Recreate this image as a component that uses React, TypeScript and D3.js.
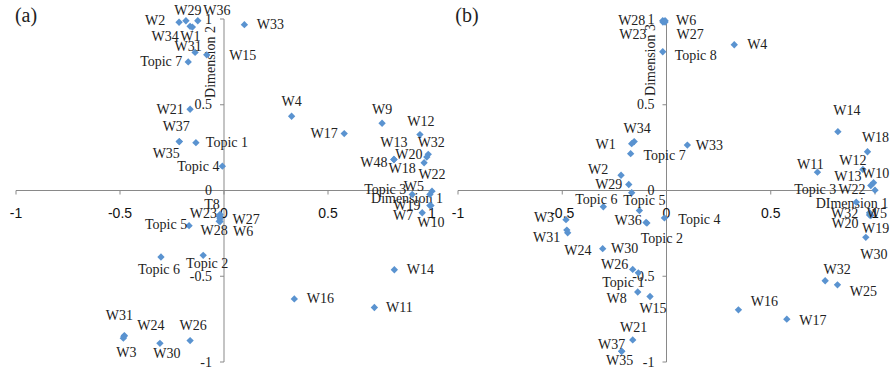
import React from "react";
import * as d3 from "d3";

// ---------- Panel (a): Dimension 1 vs Dimension 2 ----------
const aNames = ["W2","W29","W36","W34","W1","W31","W15","Topic 7","W33","W21","W37","W35","Topic 1","Topic 4","W4","W9","W17","W12","W13","W48","W32","W20","W18","W22","W5","Topic 3","W19","W10","W7","T8","W23","W27","W28","W6","Topic 5","Topic 6","Topic 2","W14","W16","W11","W31","W24","W3","W30","W26"];
const aDim1 = [-0.216,-0.183,-0.126,-0.163,-0.152,-0.139,-0.083,-0.172,0.098,-0.163,-0.215,-0.215,-0.135,-0.008,0.325,0.76,0.578,0.942,0.817,0.817,0.982,0.975,0.962,1.0,0.99,0.905,0.99,0.995,0.953,-0.019,-0.022,-0.019,-0.023,-0.019,-0.168,-0.303,-0.1,0.819,0.338,0.723,-0.479,-0.481,-0.484,-0.308,-0.163];
const aDim2 = [0.981,0.99,0.99,0.957,0.953,0.805,0.791,0.75,0.967,0.474,0.285,0.285,0.279,0.142,0.433,0.392,0.332,0.326,0.181,0.181,0.211,0.195,0.162,-0.004,-0.023,-0.023,-0.088,-0.088,-0.13,-0.14,-0.152,-0.165,-0.18,-0.181,-0.205,-0.388,-0.378,-0.462,-0.632,-0.682,-0.846,-0.851,-0.861,-0.891,-0.875];
// label offsets (layout, px)
const aLabelDx = [-24,2,19,-25,-2,-7,36,-27,26,-20,-3,-13,31,-24,0,0,-20,1,0,-20,3,-18,-22,0,-16,-27,-23,0,-19,-8,-16,26,-5,23,-23,-2,4,26,26,25,-5,27,3,7,3];
const aLabelDy = [-2,-10,-10,10,9,-6,1,0,0,0,-15,12,0,0,-15,-14,0,-13,-17,3,-12,-3,6,-17,-8,-5,0,17,3,-10,-3,1,9,10,-1,12,8,0,0,0,-20,-11,14,10,-15];

// ---------- Panel (b): Dimension 1 vs Dimension 3 ----------
const bNames = ["W28","W6","W23","W27","Topic 8","W4","W34","W1","Topic 7","W33","W2","W29","","Topic 6","Topic 5","W36","Topic 4","Topic 2","W3","W31","W24","W30","W26","Topic 1","W8","W15","W21","W37","W35","W16","W17","W32","W25","W14","W18","W11","W12","W10","W13","W22","Topic 3","W32","W5","W20","W19","W30"];
const bDim1 = [-0.018,-0.007,-0.017,-0.007,-0.018,0.325,-0.155,-0.167,-0.172,0.1,-0.218,-0.181,-0.167,-0.303,-0.13,-0.098,-0.01,-0.094,-0.482,-0.474,-0.478,-0.306,-0.162,-0.135,-0.138,-0.079,-0.162,-0.215,-0.215,0.345,0.577,0.761,0.82,0.822,0.964,0.724,0.942,0.993,0.98,1.0,0.91,0.974,0.98,0.976,0.974,0.956];
const bDim3 = [0.99,0.99,0.982,0.982,0.809,0.85,0.285,0.273,0.215,0.265,0.089,0.035,-0.013,-0.095,-0.117,-0.186,-0.16,-0.19,-0.17,-0.247,-0.231,-0.339,-0.46,-0.48,-0.592,-0.618,-0.871,-0.938,-0.938,-0.696,-0.75,-0.526,-0.55,0.343,0.226,0.107,0.123,0.045,0.029,0.002,-0.068,-0.13,-0.146,-0.137,-0.143,-0.273];
const bLabelDx = [-31,21,-30,25,33,23,3,-26,34,22,-23,-20,0,-7,5,-18,35,15,-22,-21,11,22,-18,-15,-21,3,1,-10,-2,26,26,12,26,9,8,-7,-10,2,-23,-23,-41,-25,6,-25,6,8];
const bLabelDy = [0,0,12,12,4,0,-13,1,2,0,-6,0,0,-7,-10,-2,2,15,-2,5,20,0,-5,10,6,12,-12,-7,9,-8,1,-11,7,-21,-14,-8,-9,-9,-9,-1,-13,1,-2,10,13,17];

const xTicks = [-1, -0.5, 0, 0.5, 1];
const yTicks = [-1, -0.5, 0, 0.5, 1];
const xTickLabels = ["-1", "-0.5", "0", "0.5", "1"];
const yTickLabels = ["-1", "-0.5", "0", "0.5", "1"];

const SERIF = "'Liberation Serif', 'Times New Roman', serif";
const SANS = "'Liberation Sans', Arial, sans-serif";
const AXIS = "#898989";
const MARK = "#5A93D0";
const TEXT = "#222";

type PanelProps = {
  names: string[]; xs: number[]; ys: number[]; ldx: number[]; ldy: number[];
  x0: number; x1: number; tag: string; tagX: number;
  xTitle: string; xTitlePos: [number, number];
  yTitle: string; yTitlePos: [number, number];
};

function Panel(p: PanelProps) {
  const x = d3.scaleLinear().domain([-1, 1]).range([p.x0, p.x1]);
  const y = d3.scaleLinear().domain([-1, 1]).range([362, 19]);
  const ox = x(0), oy = y(0);
  const diamond = d3.symbol().type(d3.symbolSquare).size(27)();
  return (
    <g>
      <text x={p.tagX} y={15} fontFamily={SERIF} fontSize={20} fill={TEXT} dominantBaseline="central" textAnchor="middle">{p.tag}</text>
      {/* axes */}
      <line x1={x(-1)} x2={x(1)} y1={oy} y2={oy} stroke={AXIS} strokeWidth={1} />
      <line x1={ox} x2={ox} y1={y(1)} y2={y(-1)} stroke={AXIS} strokeWidth={1} />
      {xTicks.map((t, i) => (
        <g key={"xt" + i}>
          <line x1={x(t)} x2={x(t)} y1={oy} y2={oy + 4} stroke={AXIS} />
          <text x={x(t)} y={oy + 22} fontFamily={SANS} fontSize={14} fill="#111" textAnchor="middle" dominantBaseline="central">{xTickLabels[i]}</text>
        </g>
      ))}
      {yTicks.map((t, i) => (
        <g key={"yt" + i}>
          <line x1={ox - 4} x2={ox} y1={y(t)} y2={y(t)} stroke={AXIS} />
          <text x={ox - 12} y={y(t)} fontFamily={SERIF} fontSize={14} fill={TEXT} textAnchor="end" dominantBaseline="central">{yTickLabels[i]}</text>
        </g>
      ))}
      <text x={p.xTitlePos[0]} y={p.xTitlePos[1]} fontFamily={SERIF} fontSize={14} fill={TEXT} textAnchor="middle" dominantBaseline="central">{p.xTitle}</text>
      <text transform={`translate(${p.yTitlePos[0]},${p.yTitlePos[1]}) rotate(-90)`} fontFamily={SERIF} fontSize={14} fill={TEXT} textAnchor="middle" dominantBaseline="central">{p.yTitle}</text>
      {p.names.map((n, i) => (
        <path key={"m" + i} d={diamond as string} transform={`translate(${x(p.xs[i])},${y(p.ys[i])}) rotate(45)`} fill={MARK} />
      ))}
      {p.names.map((n, i) => n ? (
        <text key={"l" + i} x={x(p.xs[i]) + p.ldx[i]} y={y(p.ys[i]) + p.ldy[i]} fontFamily={SERIF} fontSize={14} fill={TEXT} textAnchor="middle" dominantBaseline="central">{n}</text>
      ) : null)}
    </g>
  );
}

export default function App() {
  return (
    <svg width={894} height={373} style={{ position: "absolute", left: 0, top: 0, background: "#fff" }}>
      <rect width={894} height={373} fill="#fff" />
      <Panel names={aNames} xs={aDim1} ys={aDim2} ldx={aLabelDx} ldy={aLabelDy}
        x0={16} x1={432} tag="(a)" tagX={26}
        xTitle="Dimension 1" xTitlePos={[407, 198]} yTitle="Dimension 2" yTitlePos={[210, 62]} />
      <Panel names={bNames} xs={bDim1} ys={bDim3} ldx={bLabelDx} ldy={bLabelDy}
        x0={458} x1={875} tag="(b)" tagX={467}
        xTitle="DImension 1" xTitlePos={[852, 203]} yTitle="Dimension 3" yTitlePos={[650, 60]} />
    </svg>
  );
}
